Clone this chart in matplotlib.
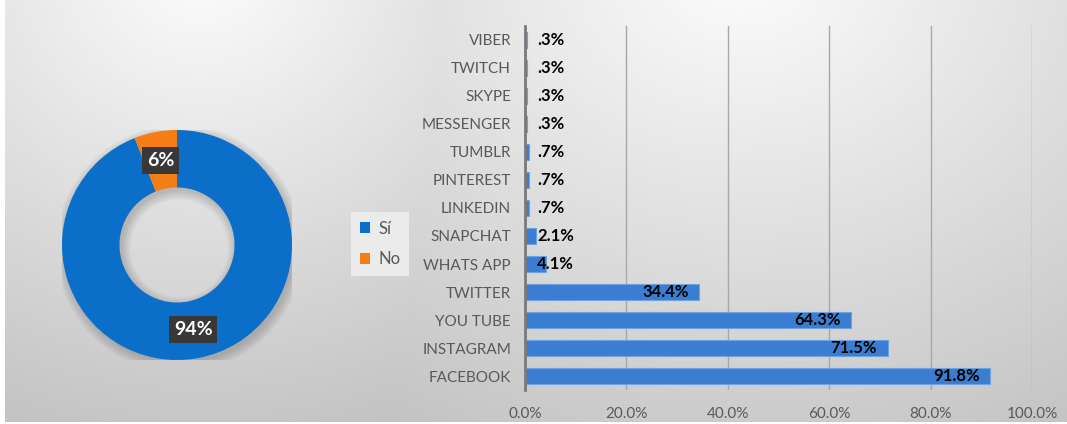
import matplotlib
matplotlib.use("Agg")
import matplotlib.pyplot as plt
from matplotlib.patches import Wedge
import numpy as np

plt.rcParams['font.family'] = ['Lato', 'DejaVu Sans']

# donut data
donut_labels = ["Sí", "No"]
donut_values = [94, 6]
donut_colors = ["#0b6fc9", "#f57d15"]

# bar data (bottom to top)
platforms = ["FACEBOOK", "INSTAGRAM", "YOU TUBE", "TWITTER", "WHATS APP", "SNAPCHAT",
             "LINKEDIN", "PINTEREST", "TUMBLR", "MESSENGER", "SKYPE", "TWITCH", "VIBER"]
usage = [91.8, 71.5, 64.3, 34.4, 4.1, 2.1, 0.7, 0.7, 0.7, 0.3, 0.3, 0.3, 0.3]
usage_labels = ["91.8%", "71.5%", "64.3%", "34.4%", "4.1%", "2.1%", ".7%", ".7%", ".7%",
                ".3%", ".3%", ".3%", ".3%"]
xticks = [0, 20, 40, 60, 80, 100]
xtick_labels = ["0.0%", "20.0%", "40.0%", "60.0%", "80.0%", "100.0%"]

W, H = 1067, 424
fig = plt.figure(figsize=(W / 100, H / 100), dpi=100)
fig.patch.set_facecolor("white")

# background gradient (two soft light spots blended)
bg = fig.add_axes([5 / W, 2 / H, (W - 5) / W, (H - 2) / H])
yy, xx = np.mgrid[0:422, 5:W]
d_left = np.hypot((xx - 200) * 0.9, yy + 30) / 470.0
d_right = np.hypot((xx - 740) * 0.8, yy + 30) / 520.0
d = np.minimum(d_left, d_right)
shade = np.clip(0.99 - 0.22 * d, 0.76, 0.99)
bg.imshow(np.dstack([shade] * 3), aspect="auto", interpolation="bilinear")
bg.axis("off")

# donut
cx, cy, r = 177, 245, 115
ax1 = fig.add_axes([(cx - r) / W, (H - cy - r) / H, 2 * r / W, 2 * r / H])
ax1.patch.set_alpha(0)
# soft shadow ring
for k in range(6):
    ax1.add_patch(Wedge((0.02, -0.03), 1.0 + 0.015 * k, 0, 360, width=0.5 + 0.03 * k,
                        color="black", alpha=0.03, zorder=0, linewidth=0))
wedges, texts, autotexts = ax1.pie(
    donut_values, colors=donut_colors, startangle=90, counterclock=False,
    radius=1, wedgeprops=dict(width=0.5, linewidth=0),
    autopct="%d%%", pctdistance=0.75)
for t in autotexts:
    t.set_color("white")
    t.set_fontweight("bold")
    t.set_fontsize(14)
    t.set_bbox(dict(facecolor="#383838", edgecolor="none", boxstyle="square,pad=0.25"))
ax1.set_xlim(-1, 1)
ax1.set_ylim(-1, 1)
ax1.set_aspect("auto")

fig.legend(wedges, donut_labels, loc="center", bbox_to_anchor=(380 / W, 1 - 244 / H),
           frameon=True, facecolor="#ebebeb", edgecolor="none", framealpha=1,
           fontsize=12, handlelength=0.6, handleheight=0.6, handletextpad=0.5,
           labelspacing=0.9, borderpad=0.5, labelcolor="#595959", fancybox=False)

# bar chart
x0, x1 = 525, 1032
ytop, ybot = 26, 390
ax2 = fig.add_axes([x0 / W, (H - ybot) / H, (x1 - x0) / W, (ybot - ytop) / H])
ax2.patch.set_alpha(0)
ypos = np.arange(len(platforms))
ax2.barh(ypos, usage, height=0.6, color="#3b7dd0", edgecolor="#6fa3e0", linewidth=0.8, zorder=3)
for y, v, lab in zip(ypos, usage, usage_labels):
    if v < 10:
        ax2.text(2.4, y, lab, ha="left", va="center", fontsize=12, fontweight="bold",
                 color="black", zorder=4)
    else:
        ax2.text(v - 2.1, y, lab, ha="right", va="center", fontsize=12, fontweight="bold",
                 color="black", zorder=4)
ax2.set_xlim(0, 100)
ax2.set_ylim(-0.5, len(platforms) - 0.5)
ax2.set_yticks(ypos)
ax2.set_yticklabels(platforms, fontsize=11, color="#595959")
ax2.set_xticks(xticks)
ax2.set_xticklabels(xtick_labels, fontsize=11, color="#595959")
ax2.tick_params(length=0, pad=10)
ax2.tick_params(axis="x", pad=12)
for g in xticks[1:]:
    ax2.axvline(g, color="#a8a8a8", linewidth=1, zorder=1)
for s in ["top", "right", "bottom"]:
    ax2.spines[s].set_visible(False)
ax2.spines["left"].set_color("#7a7a7a")
ax2.spines["left"].set_linewidth(2)
ax2.spines["left"].set_zorder(5)

fig.savefig("out.png", dpi=100)
